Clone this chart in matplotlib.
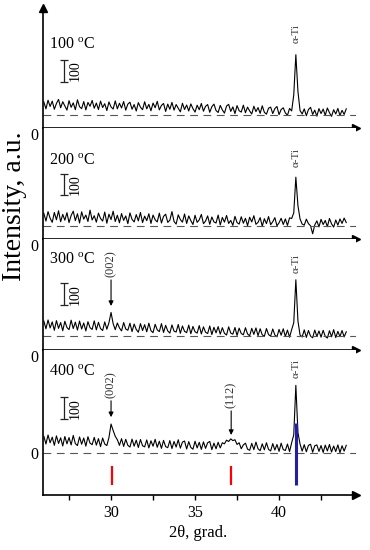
import numpy as np
import matplotlib
matplotlib.use("Agg")
import matplotlib.pyplot as plt
from matplotlib.ticker import MultipleLocator

plt.rcParams['font.family'] = ['Liberation Serif', 'DejaVu Serif']
plt.rcParams['mathtext.fontset'] = 'custom'
plt.rcParams['mathtext.rm'] = 'Liberation Serif'

# 2theta grid, 26..44 deg, 0.125 step
two_theta = np.linspace(26.0, 44.0, 145)

# intensities above the dashed zero line, counts
I100 = [62, 30, 70, 41, 66, 28, 55, 74, 35, 63, 44, 24,
        68, 37, 58, 26, 72, 40, 31, 64, 25, 60, 42, 69,
        33, 57, 27, 66, 36, 54, 22, 62, 39, 29, 67, 30,
        56, 34, 64, 24, 52, 61, 28, 50, 20, 59, 38, 26,
        63, 30, 51, 21, 57, 35, 65, 25, 46, 55, 18, 52,
        28, 60, 24, 50, 33, 16, 56, 27, 48, 20, 53, 31,
        15, 47, 26, 55, 19, 42, 50, 14, 40, 52, 22, 13,
        46, 25, 10, 43, 51, 18, 39, 8, 45, 21, 15, 47,
        12, 38, 20, 6, 42, 17, 36, 9, 44, 14, 5, 33,
        38, 8, 31, 41, 3, 27, 35, 11, 0, 32, 20, 95,
        282, 110, 22, 6, 30, -2, 27, 37, 4, 24, -4, 31,
        8, 29, 0, 34, 12, -5, 26, 6, 32, -1, 23, 4,
        30]

I200 = [60, 24, 68, 37, 18, 64, 30, 72, 21, 55, 28, 63,
        17, 50, 70, 26, 58, 15, 67, 33, 52, 22, 75, 29,
        49, 19, 61, 36, 24, 66, 14, 56, 31, 70, 22, 51,
        16, 59, 27, 48, 12, 62, 32, 20, 54, 25, 64, 17,
        47, 26, 58, 13, 52, 30, 20, 61, 15, 46, 56, 18,
        28, 68, 22, 10, 53, 31, 19, 57, 13, 48, 26, 8,
        51, 18, 30, 55, 12, 24, 48, 9, 43, 20, 15, 52,
        6, 41, 19, 50, 13, 27, 4, 46, 17, 10, 44, 14,
        37, 3, 42, 20, 49, 9, 18, 40, 0, 35, 12, 45,
        7, 21, 40, 2, 16, 37, 8, 34, 4, 39, 36, 62,
        228, 95, 34, 10, 5, 33, 12, 2, -35, 6, 25, -3,
        32, 8, 27, -2, 36, 11, -4, 29, 5, 34, 13, 38,
        17]

I300 = [70, 34, 75, 38, 66, 27, 72, 36, 63, 25, 69, 40,
        30, 74, 35, 65, 28, 70, 33, 61, 24, 67, 39, 31,
        71, 29, 64, 35, 26, 66, 32, 62, 110, 58, 30, 61,
        38, 24, 63, 33, 27, 60, 21, 56, 31, 18, 58, 26,
        53, 20, 60, 25, 16, 55, 29, 21, 58, 17, 50, 24,
        14, 52, 23, 19, 54, 13, 47, 22, 16, 51, 11, 45,
        20, 14, 49, 10, 43, 18, 12, 47, 7, 41, 15, 44,
        9, 39, 13, 5, 43, 14, 9, 40, 3, 37, 12, 6,
        39, 10, 1, 36, 8, 38, 2, 34, 6, -1, 35, 7,
        0, 33, 5, -3, 31, 4, 34, -2, 28, -5, 30, 62,
        262, 70, 5, -4, 29, -6, 26, 0, -8, 28, -2, 24,
        -5, 27, -1, -9, 25, -3, 30, -7, 22, -2, 26, -4,
        20]

I400 = [78, 42, 84, 48, 74, 36, 80, 45, 71, 33, 77, 43,
        72, 38, 82, 44, 35, 75, 41, 70, 32, 76, 46, 39,
        73, 37, 67, 30, 70, 42, 35, 72, 135, 105, 78, 62,
        36, 67, 31, 64, 36, 28, 65, 32, 60, 26, 63, 34,
        29, 61, 24, 57, 32, 64, 27, 55, 22, 59, 30, 25,
        58, 21, 54, 28, 62, 23, 51, 56, 19, 53, 26, 18,
        55, 24, 50, 17, 52, 22, 48, 54, 16, 46, 20, 50,
        24, 48, 43, 60, 54, 66, 58, 62, 40, 48, 20, 38,
        46, 18, 13, 45, 16, 51, 20, 11, 43, 15, 48, 17,
        10, 44, 14, 40, 8, 46, 16, 12, 42, 7, 48, 85,
        315, 95, 42, 9, 39, 6, 36, 41, 4, 34, 38, 8,
        35, 3, 37, 10, 40, 5, 33, 7, 38, 2, 34, 9,
        36]

patterns = [I100, I200, I300, I400]
temps = ['100', '200', '300', '400']

ti_pos = 41.0
ti_label_y = [335, 274, 293, 349]

# reference lines under the 400 C pattern
red_pos = [30.05, 37.15]
blue_pos = [41.0]

# hkl arrows: (panel, label, 2theta, tip, tail)
hkl = [(2, '(002)', 30.0, 140, 274),
       (3, '(002)', 30.0, 167, 256),
       (3, '(112)', 37.15, 84, 209)]

ylims = [(-60, 498), (-60, 456), (-65, 451), (-195, 479)]
temp_y = [326, 302, 353, 377]
bar_y = [207, 195, 195, 209]

fig, axes = plt.subplots(4, 1, figsize=(3.7, 5.5), dpi=100,
                         gridspec_kw=dict(height_ratios=[120, 111, 111, 145], hspace=0))
fig.subplots_adjust(left=43/370, right=356/370, top=0.985, bottom=0.1)

for i, ax in enumerate(axes):
    ax.plot(two_theta, patterns[i], color='black', lw=0.8)
    ax.axhline(0, color='#555555', lw=0.8, linestyle=(0, (7, 5)))
    ax.set_xlim(25.95, 44.58)
    ax.set_ylim(*ylims[i])
    for s in ['top', 'right']:
        ax.spines[s].set_visible(False)
    ax.spines['left'].set_linewidth(1.2)
    ax.spines['bottom'].set_linewidth(1.2)
    ax.xaxis.set_major_locator(MultipleLocator(5))
    ax.xaxis.set_minor_locator(MultipleLocator(2.5))
    ax.tick_params(axis='x', which='both', direction='out', length=3.5, width=1)
    if i < 3:
        ax.tick_params(axis='x', labelbottom=False)
        ax.set_yticks([ylims[i][0]])
        ax.set_yticklabels(['0'], va='top')
    else:
        ax.set_yticks([0])
        ax.set_yticklabels(['0'])
        ax.tick_params(axis='x', labelsize=11.5)
    ax.tick_params(axis='y', length=0, labelsize=11.5, pad=3)
    ax.plot(1, 0, '>', color='black', ms=6, transform=ax.transAxes, clip_on=False)

    ax.text(26.3, temp_y[i], temps[i] + ' $^{\\mathrm{o}}$C', fontsize=11.5,
            ha='left', va='center')
    ax.errorbar(27.19, bar_y[i], yerr=50, color='#222222', lw=0.9, capsize=3, capthick=0.9)
    ax.text(27.85, bar_y[i], '100', rotation=90, fontsize=10, ha='center', va='center')
    ax.text(ti_pos, ti_label_y[i], '\u03b1-Ti', rotation=90, fontsize=8,
            ha='center', va='bottom', color='#333333')

axes[0].plot(0, 1, '^', color='black', ms=6, transform=axes[0].transAxes, clip_on=False)

for p, lab, x, tip, tail in hkl:
    axes[p].annotate(lab, xy=(x, tip), xytext=(x, tail), rotation=90, fontsize=9,
                     ha='center', va='bottom', color='#333333',
                     arrowprops=dict(arrowstyle='-|>', color='black', lw=0.8,
                                     shrinkA=0, shrinkB=0, mutation_scale=7))

ax4 = axes[3]
ax4.vlines(red_pos, -149, -60, color='red', lw=1.6)
ax4.vlines(blue_pos, -149, 140, color='#1f1fa8', lw=2.2, zorder=3)

fig.text(0.04, 0.625, 'Intensity, a.u.', rotation=90, fontsize=20, ha='center', va='center')
fig.text(0.535, 0.031, '2\u03b8, grad.', fontsize=12, ha='center', va='center')

fig.savefig('out.png', dpi=100)
